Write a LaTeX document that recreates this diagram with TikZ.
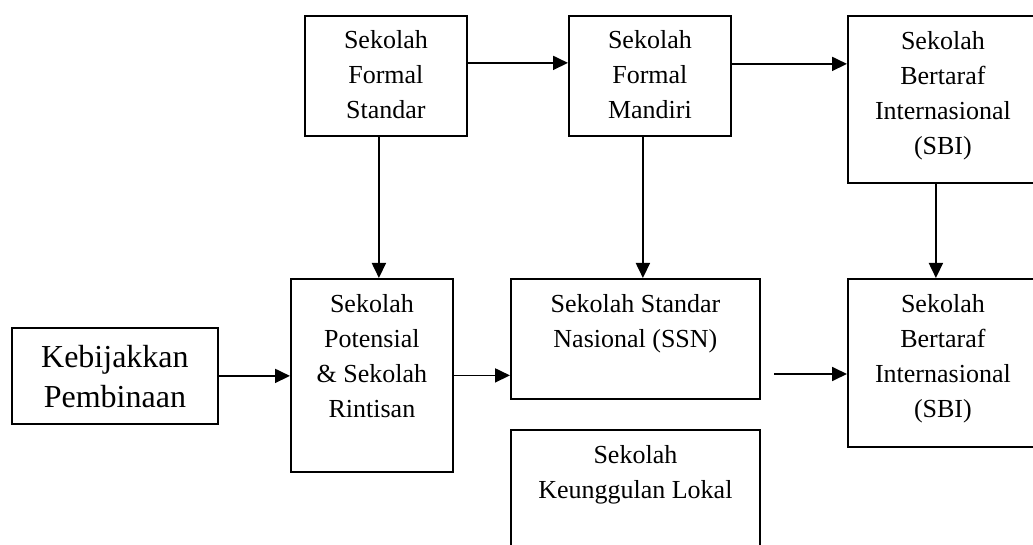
\documentclass[tikz,border=0pt]{standalone}
\usepackage{fontspec}
\setmainfont{Liberation Serif}
\usetikzlibrary{arrows.meta}
\begin{document}
\begin{tikzpicture}[x=1pt,y=-1pt,
  box/.style={draw,line width=1.8pt,inner sep=0pt,anchor=north west},
  txt/.style={align=center,inner sep=0pt,anchor=north,font=\fontsize{26}{35}\selectfont},
  bigtxt/.style={align=center,inner sep=0pt,anchor=north,font=\fontsize{32}{40}\selectfont},
  arr/.style={line width=1.8pt,-{Triangle[length=15pt,width=14pt]}}]
\useasboundingbox (0,0) rectangle (1033,545);
\clip (0,0) rectangle (1033,545);

% boxes
\node[box,minimum width=206pt,minimum height=96pt] (keb) at (11,327) {};
\node[box,minimum width=162pt,minimum height=120pt] (sfs) at (304,15) {};
\node[box,minimum width=162pt,minimum height=120pt] (sfm) at (568,15) {};
\node[box,minimum width=190pt,minimum height=167pt] (sbi1) at (847,15) {};
\node[box,minimum width=162pt,minimum height=193pt] (spsr) at (290,278) {};
\node[box,minimum width=249pt,minimum height=120pt] (ssn) at (510,278) {};
\node[box,minimum width=249pt,minimum height=131pt] (skl) at (510,429) {};
\node[box,minimum width=190pt,minimum height=168pt] (sbi2) at (847,278) {};

% texts
\node[bigtxt] (tkeb) at ([yshift=-18pt]keb.north) {Kebijakkan\\Pembinaan};
\node[txt] (tsfs) at ([yshift=-15pt]sfs.north) {Sekolah\\Formal\\Standar};
\node[txt] (tsfm) at ([yshift=-15pt]sfm.north) {Sekolah\\Formal\\Mandiri};
\node[txt] (tsbi1) at ([yshift=-16pt]sbi1.north) {Sekolah\\Bertaraf\\Internasional\\(SBI)};
\node[txt] (tspsr) at ([yshift=-16pt]spsr.north) {Sekolah\\Potensial\\\& Sekolah\\Rintisan};
\node[txt] (tssn) at ([yshift=-16pt]ssn.north) {Sekolah Standar\\Nasional (SSN)};
\node[txt] (tskl) at ([yshift=-16pt]skl.north) {Sekolah\\Keunggulan Lokal};
\node[txt] (tsbi2) at ([yshift=-16pt]sbi2.north) {Sekolah\\Bertaraf\\Internasional\\(SBI)};

% connectors
\coordinate (a1) at ([yshift=13pt]sfs.east);
\draw[arr] (a1) -- (a1 -| sfm.west);
\coordinate (a2) at ([yshift=12pt]sfm.east);
\draw[arr] (a2) -- (a2 -| sbi1.west);
\coordinate (a3) at ([xshift=-7pt]sfs.south);
\draw[arr] (a3) -- (a3 |- spsr.north);
\coordinate (a4) at ([xshift=-7pt]sfm.south);
\draw[arr] (a4) -- (a4 |- ssn.north);
\coordinate (a5) at ([xshift=-7pt]sbi1.south);
\draw[arr] (a5) -- (a5 |- sbi2.north);
\draw[arr] (keb.east) -- (keb.east -| spsr.west);
\draw[arr] (spsr.east) -- (spsr.east -| ssn.west);
\coordinate (free) at (774,374);
\draw[arr] (free) -- (free -| sbi2.west);
\end{tikzpicture}
\end{document}
